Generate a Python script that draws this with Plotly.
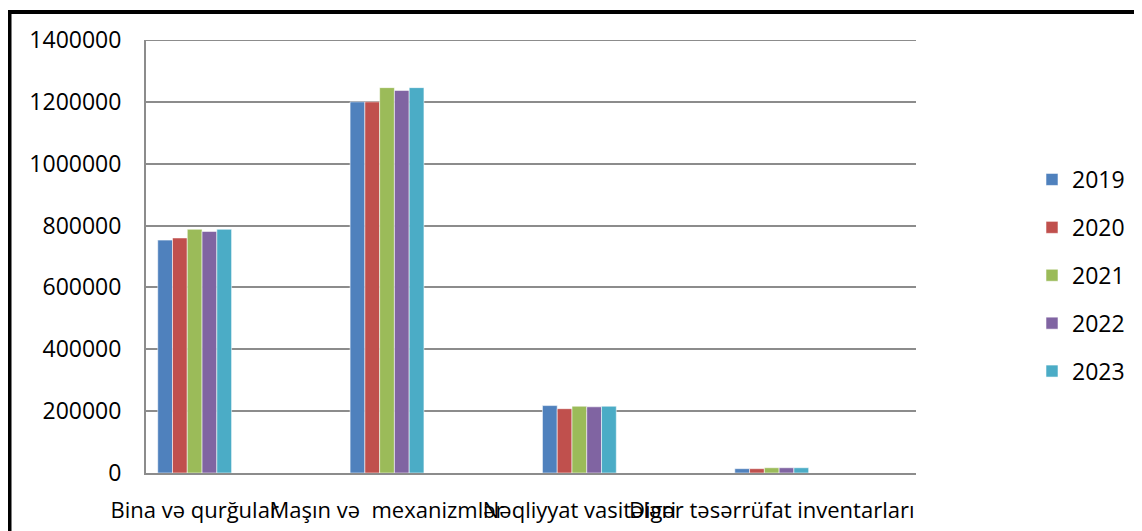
import plotly.graph_objects as go

categories = ["Bina və qurğular", "Maşın və \u00a0mexanizmlər", "Nəqliyyat vasitələri", "Digər təsərrüfat inventarları"]
years = ["2019", "2020", "2021", "2022", "2023"]
bina = [753000, 760000, 788000, 781000, 788000]
masin = [1200000, 1200000, 1246000, 1237000, 1246000]
neqliyyat = [218000, 208000, 216000, 214000, 216000]
diger = [14000, 14000, 17000, 17000, 17000]
tick_vals = [0, 200000, 400000, 600000, 800000, 1000000, 1200000, 1400000]
colors = ["#4F81BD", "#C0504D", "#9BBB59", "#8064A2", "#4BACC6"]

FONT = "Open Sans"
FS = 23
OFF = 8  # page body margin

fig = go.Figure()
for i, y in enumerate(years):
    vals = [bina[i], masin[i], neqliyyat[i], diger[i]]
    fig.add_trace(go.Bar(
        x=categories, y=vals, name=y, legendgroup=y,
        marker=dict(color=colors[i], line=dict(color="rgba(255,255,255,0.55)", width=1)),
    ))

W, H = 1142 - OFF, 531 - OFF
# target screen coords of plot area
sx0, sx1, sy0, sy1 = 146, 916, 40, 473
L = sx0 - OFF
T = sy0 - OFF
R = W - (sx1 - OFF)
B = H - (sy1 - OFF)
pw = W - L - R
ph = H - T - B

def px(sx):
    return (sx - OFF - L) / pw

def py(sy):
    return (H - B - (sy - OFF)) / ph

fig.update_layout(
    width=W, height=H,
    margin=dict(l=L, r=R, t=T, b=B, autoexpand=False),
    paper_bgcolor="white", plot_bgcolor="white",
    barmode="group", bargap=0.616, bargroupgap=0,
    font=dict(family=FONT, size=FS, color="black"),
    showlegend=True,
    legend=dict(x=px(1032), xanchor="left", y=py(158), yanchor="top",
                font=dict(family=FONT, size=FS, color="black"),
                tracegroupgap=15, bgcolor="rgba(0,0,0,0)"),
    xaxis=dict(type="category", range=[-0.253, 3.75], showgrid=False, tickangle=0,
               showline=True, linecolor="#8C8C8C", linewidth=2, ticks="",
               ticklabelstandoff=17, tickfont=dict(family=FONT, size=22, color="black")),
    yaxis=dict(range=[0, tick_vals[-1]], tickvals=tick_vals, ticktext=[str(v) for v in tick_vals],
               showgrid=True, gridcolor="#8C8C8C", gridwidth=2, zeroline=False,
               showline=True, linecolor="#8C8C8C", linewidth=2, ticks="",
               ticklabelstandoff=18, tickfont=dict(family=FONT, size=FS, color="black")),
    shapes=[
        dict(type="line", xref="paper", yref="y", x0=0, x1=1, y0=tick_vals[-1], y1=tick_vals[-1],
             line=dict(color="#8C8C8C", width=2)),
        dict(type="rect", xref="paper", yref="paper",
             x0=px(9.5), x1=2.0, y0=-1.0, y1=py(12),
             line=dict(color="black", width=4), fillcolor="rgba(0,0,0,0)"),
    ],
)

fig.write_html("out.html")
